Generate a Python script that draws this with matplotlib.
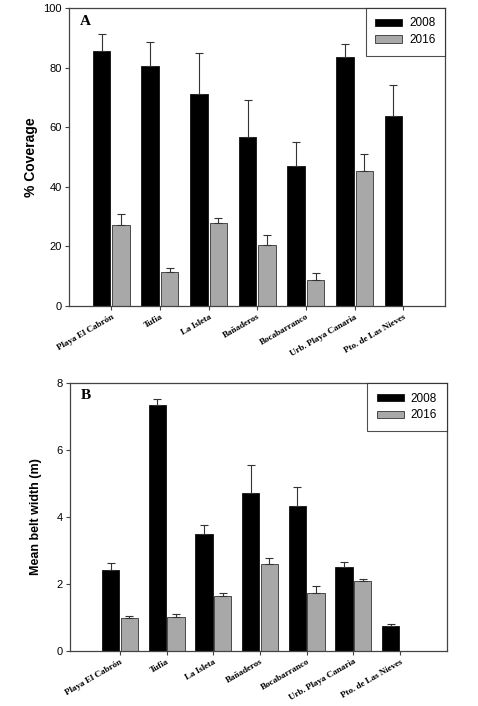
import numpy as np
import matplotlib
matplotlib.use("Agg")
import matplotlib.pyplot as plt

# Standorte und Werte
sites = ["Playa El Cabrón", "Tufia", "La Isleta", "Bañaderos",
         "Bocabarranco", "Urb. Playa Canaria", "Pto. de Las Nieves"]
years = ["2008", "2016"]

cover_2008 = [85.6, 80.5, 71.0, 56.6, 47.1, 83.4, 63.9]
cover_2008_err = [5.6, 8.2, 13.9, 12.6, 7.9, 4.4, 10.4]
cover_2016 = [27.1, 11.5, 27.7, 20.5, 8.7, 45.4, np.nan]
cover_2016_err = [3.9, 1.4, 1.7, 3.2, 2.2, 5.7, np.nan]

width_2008 = [2.41, 7.34, 3.49, 4.71, 4.34, 2.51, 0.73]
width_2008_err = [0.22, 0.18, 0.28, 0.85, 0.55, 0.13, 0.07]
width_2016 = [0.99, 1.00, 1.63, 2.58, 1.74, 2.08, np.nan]
width_2016_err = [0.04, 0.11, 0.09, 0.20, 0.21, 0.07, np.nan]

dark = "#000000"
light = "#a8a8a8"
spine_col = "#444444"

fig = plt.figure(figsize=(4.78, 7.06), dpi=100)
fig.patch.set_facecolor("white")


def panel(rect, v08, e08, v16, e16, ylim, yticks, ylabel, letter, xlim,
          bw, ylabel_x, ylabel_size):
    ax = fig.add_axes(rect)
    x = np.arange(len(sites))
    n = len(sites)
    ax.bar(x - 0.2, v08, bw, color=dark, edgecolor="#111111", linewidth=0.6,
           yerr=[np.zeros(n), e08], capsize=3,
           error_kw=dict(elinewidth=0.8, capthick=0.8, ecolor="#333333"),
           label=years[0], zorder=2)
    ax.bar(x + 0.2, v16, bw, color=light, edgecolor="#333333", linewidth=0.6,
           yerr=[np.zeros(n), e16], capsize=3,
           error_kw=dict(elinewidth=0.8, capthick=0.8, ecolor="#333333"),
           label=years[1], zorder=2)
    ax.set_xlim(*xlim)
    ax.set_ylim(*ylim)
    ax.set_yticks(yticks)
    ax.set_yticklabels([str(t) for t in yticks], fontsize=8,
                       family="Liberation Sans")
    ax.set_xticks(x)
    ax.set_xticklabels(sites, rotation=30, ha="right", rotation_mode="anchor",
                       fontsize=6.5, family="Liberation Serif",
                       fontweight="bold")
    ax.tick_params(axis="both", direction="out", length=3, width=0.8,
                   color=spine_col, pad=2)
    for s in ax.spines.values():
        s.set_color(spine_col)
        s.set_linewidth(0.9)
    ax.set_ylabel(ylabel, fontsize=ylabel_size, fontweight="bold",
                  family="Liberation Sans")
    ax.yaxis.set_label_coords(ylabel_x, 0.5)
    ax.text(0.03, 0.978, letter, transform=ax.transAxes, va="top",
            ha="left", fontsize=11, fontweight="bold",
            family="Liberation Serif")
    leg = ax.legend(loc="upper right", borderaxespad=0, fancybox=False,
                    prop=dict(family="Liberation Sans", size=8.5),
                    handlelength=2.3, handleheight=0.6, handletextpad=0.6,
                    borderpad=0.8, labelspacing=0.4)
    leg.get_frame().set_edgecolor("#222222")
    leg.get_frame().set_linewidth(0.8)
    return ax


panel([0.1444, 0.5666, 0.7866, 0.4221], cover_2008, cover_2008_err,
      cover_2016, cover_2016_err, (0, 100), [0, 20, 40, 60, 80, 100],
      "% Coverage", "A", (-0.87, 6.86), 0.36, -0.082, 10)

panel([0.1464, 0.0783, 0.7881, 0.3788], width_2008, width_2008_err,
      width_2016, width_2016_err, (0, 8), [0, 2, 4, 6, 8],
      "Mean belt width (m)", "B", (-1.07, 7.0), 0.375, -0.074, 9)

fig.savefig("out.png", dpi=100)
